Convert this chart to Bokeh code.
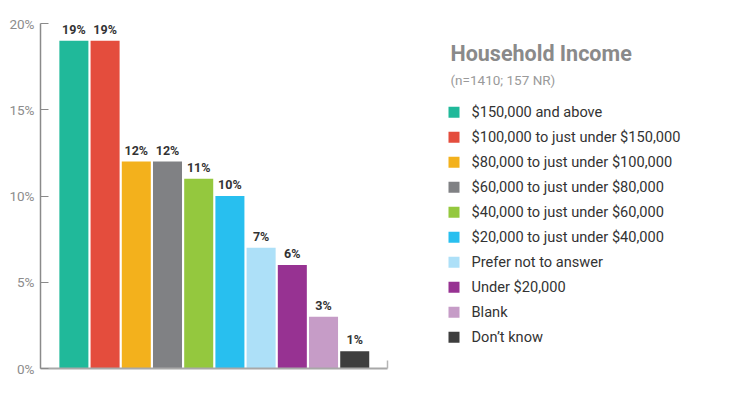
from bokeh.plotting import figure
from bokeh.layouts import row
from bokeh.models import Range1d, FixedTicker, ColumnDataSource, CustomJSTickFormatter
from bokeh.core.properties import value
from bokeh.embed import file_html
from bokeh.resources import INLINE

categories = ["$150,000 and above", "$100,000 to just under $150,000",
              "$80,000 to just under $100,000", "$60,000 to just under $80,000",
              "$40,000 to just under $60,000", "$20,000 to just under $40,000",
              "Prefer not to answer", "Under $20,000", "Blank", "Don\u2019t know"]
percents = [19, 19, 12, 12, 11, 10, 7, 6, 3, 1]
colors = ["#20B99A", "#E44D3D", "#F3B11C", "#808184", "#94C83E",
          "#28BFEF", "#ADE0F8", "#973292", "#C69CC7", "#3E3E3E"]
y_ticks = [0, 5, 10, 15, 20]
title = "Household Income"
subtitle = "(n=1410; 157 NR)"

FONT = "Roboto"
idx = list(range(len(categories)))
src = ColumnDataSource(dict(x=idx, top=percents, color=colors,
                            label=[f"{v}%" for v in percents], cat=categories))

p = figure(width=398, height=393, output_backend="svg", toolbar_location=None,
           x_range=Range1d(-1.07, 10.05), y_range=Range1d(0, 20),
           min_border_left=40, min_border_right=11, min_border_top=23, min_border_bottom=25)
p.outline_line_color = None
p.grid.visible = False
p.background_fill_color = "white"
p.border_fill_color = "white"

p.vbar(x="x", top="top", width=0.93, fill_color="color", line_color=None, source=src)
p.text(x="x", y="top", text="label", source=src, text_align="center", text_baseline="bottom",
       y_offset=-4, text_font=value(FONT), text_font_style="bold", text_font_size="12.5px",
       text_color="#333333")

ya = p.yaxis[0]
ya.ticker = FixedTicker(ticks=y_ticks)
ya.formatter = CustomJSTickFormatter(code="return tick + '%';")
ya.major_tick_in = 8
ya.major_tick_out = 0
ya.minor_tick_line_color = None
ya.axis_line_color = "#8a8a8a"
ya.major_tick_line_color = "#8a8a8a"
ya.axis_line_width = 1.5
ya.major_label_text_color = "#8c8c8c"
ya.major_label_text_font = FONT
ya.major_label_text_font_size = "13.5px"
ya.major_label_standoff = 6

xa = p.xaxis[0]
xa.ticker = FixedTicker(ticks=[10.05])
xa.formatter = CustomJSTickFormatter(code="return '';")
xa.major_tick_in = 8
xa.major_tick_out = 0
xa.minor_tick_line_color = None
xa.axis_line_color = "#a8a8a8"
xa.axis_line_width = 2
xa.major_tick_line_color = "#b5b5b5"
xa.major_tick_line_width = 1.5

# legend panel: its frame is aligned with the chart frame (page y 23..368, x 398..748)
q = figure(width=350, height=393, output_backend="svg", toolbar_location=None,
           x_range=Range1d(398, 748), y_range=Range1d(368, 23),
           min_border_left=0, min_border_right=0, min_border_top=23, min_border_bottom=25)
q.outline_line_color = None
q.grid.visible = False
q.axis.visible = False

q.text(x=[450], y=[52.7], text=[title], text_font=value(FONT), text_font_style="bold",
       text_font_size="21.5px", text_color="#8a8a8a", text_baseline="middle")
q.text(x=[450], y=[79], text=[subtitle], text_font=value(FONT),
       text_font_size="13.5px", text_color="#9a9a9a", text_baseline="middle")

lsrc = ColumnDataSource(dict(x=[453.5] * len(categories),
                             tx=[471] * len(categories),
                             y=[111.7 + 25 * i for i in idx],
                             color=colors, cat=categories))
q.rect(x="x", y="y", width=11, height=11, fill_color="color", line_color=None, source=lsrc)
q.text(x="tx", y="y", text="cat", source=lsrc, text_font=value(FONT), text_font_size="14.6px",
       text_color="#333333", text_baseline="middle")

layout = row(p, q)
open("out.html", "w").write(file_html(layout, INLINE))
